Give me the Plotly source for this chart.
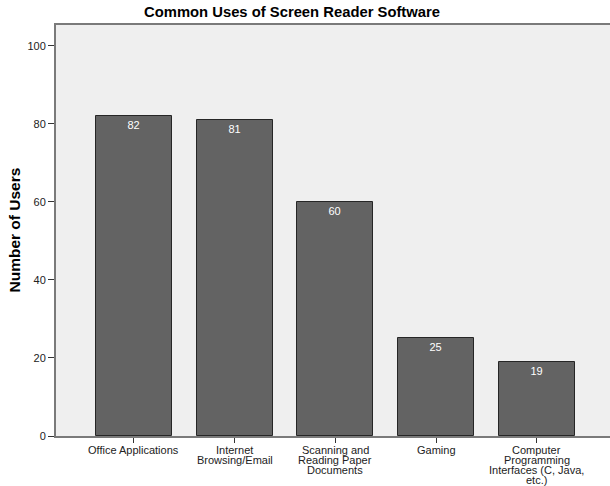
import plotly.graph_objects as go

# categories and counts
categories = [
    "Office Applications",
    "Internet<br>Browsing/Email",
    "Scanning and<br>Reading Paper<br>Documents",
    "Gaming",
    "Computer<br>Programming<br>Interfaces (C, Java,<br>etc.)",
]
users = [82, 81, 60, 25, 19]
y_ticks = [0, 20, 40, 60, 80, 100]

FONT = "Liberation Sans, Arial, sans-serif"

fig = go.Figure(go.Bar(
    x=categories, y=users,
    width=0.754,
    marker=dict(color="#636363", line=dict(color="#262626", width=1)),
    text=[str(v) for v in users],
    textposition="inside", insidetextanchor="end", textangle=0,
    textfont=dict(color="white", size=11, family=FONT),
))

fig.update_layout(
    width=610, height=486,
    margin=dict(l=56, r=0, t=25, b=50, autoexpand=False),
    paper_bgcolor="white", plot_bgcolor="#EFEFEF",
    font=dict(family=FONT, size=11, color="#222222"),
    showlegend=False,
    bargap=0,
)

# top border comes from the mirrored x axis; the right side runs off the page
fig.update_xaxes(
    range=[-0.774, 4.725], showgrid=False, automargin=False,
    showline=True, linecolor="#7a7a7a", linewidth=2, mirror=True,
    ticks="outside", ticklen=5, tickcolor="#333333", tickwidth=1,
    showticklabels=False,
)
fig.update_yaxes(
    range=[0, 105.3], tickvals=y_ticks, showgrid=False, zeroline=False,
    automargin=False,
    showline=True, linecolor="#7a7a7a", linewidth=2,
    ticks="outside", ticklen=6, tickcolor="#333333", tickwidth=1,
    tickfont=dict(size=11, color="#222222"),
)

# category labels, one line at a time for the tight line spacing
for cat in categories:
    for i, line in enumerate(cat.split("<br>")):
        fig.add_annotation(
            text=line, x=cat, xref="x", yref="paper", y=0,
            yshift=-13.5 - 10.2 * i, xanchor="center", yanchor="middle",
            showarrow=False, font=dict(size=11, color="#222222", family=FONT),
        )

fig.add_annotation(
    text="<b>Common Uses of Screen Reader Software</b>",
    xref="paper", yref="paper", x=0.426, y=1, yshift=13,
    xanchor="center", yanchor="middle", showarrow=False,
    font=dict(size=14.8, color="black", family=FONT),
)
fig.add_annotation(
    text="<b>Number of Users</b>",
    xref="paper", yref="paper", x=-0.0758, y=0.5,
    xanchor="center", yanchor="middle", textangle=-90, showarrow=False,
    font=dict(size=15.5, color="black", family=FONT),
)

# drop the browser's default 8px body margin so the figure fills the window
fig.write_html(
    "out.html",
    config={"displayModeBar": False},
    post_script="document.body.style.margin = '0';",
)
